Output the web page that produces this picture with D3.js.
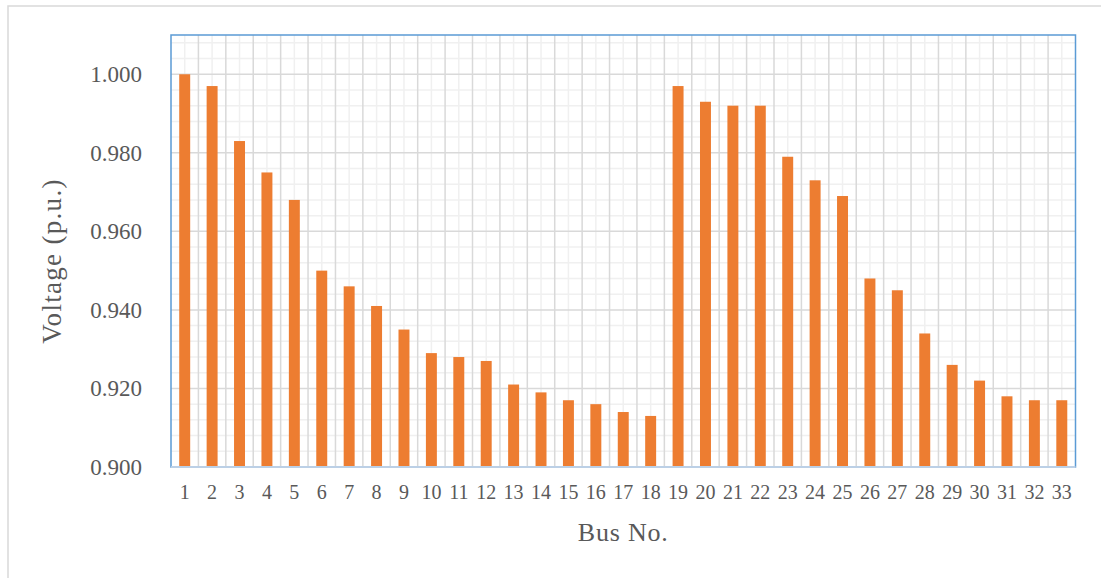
<!DOCTYPE html>
<html>
<head>
<meta charset="utf-8">
<script src="https://cdn.jsdelivr.net/npm/d3@7"></script>
<style>
  html, body { margin: 0; padding: 0; background: #ffffff; }
  svg { display: block; }
</style>
</head>
<body>
<svg id="chart" width="1101" height="578"></svg>
<script>
// ---- data ----
const buses = [1,2,3,4,5,6,7,8,9,10,11,12,13,14,15,16,17,18,19,20,21,22,23,24,25,26,27,28,29,30,31,32,33];
const voltages = [1.000,0.997,0.983,0.975,0.968,0.950,0.946,0.941,0.935,0.929,0.928,0.927,0.921,0.919,0.917,0.916,0.914,0.913,
                  0.997,0.993,0.992,0.992,0.979,0.973,0.969,0.948,0.945,0.934,0.926,0.922,0.918,0.917,0.917];
const yTicks = [0.900,0.920,0.940,0.960,0.980,1.000];
const yMinorTicks = d3.range(0, 28).map(i => +(0.900 + i * 0.004).toFixed(3));
const xTitle = "Bus No.";
const yTitle = "Voltage (p.u.)";

// ---- layout ----
const svg = d3.select("#chart");
const L = 171, R = 1075.5, T = 35, B = 467;
const font = "'Liberation Serif', 'Times New Roman', serif";
const textColor = "#595959";

// outer chart border
svg.append("rect").attr("x", 8).attr("y", 6).attr("width", 1110).attr("height", 600)
  .attr("fill", "#fff").attr("stroke", "#d9d9d9").attr("stroke-width", 1.5);

const x = d3.scaleBand().domain(buses).range([L, R]).paddingInner(0.6).paddingOuter(0.3);
const y = d3.scaleLinear().domain([0.900, 1.010]).range([B, T]);
const step = x.step();

const g = svg.append("g");

// minor horizontal gridlines
g.selectAll("line.hmin").data(yMinorTicks.filter(v => yTicks.indexOf(v) < 0)).enter().append("line")
  .attr("x1", L).attr("x2", R).attr("y1", d => y(d)).attr("y2", d => y(d))
  .attr("stroke", "#f0f0f0").attr("stroke-width", 1.5);

// minor vertical gridlines (category centres)
g.selectAll("line.vmin").data(buses).enter().append("line")
  .attr("x1", d => x(d) + x.bandwidth() / 2).attr("x2", d => x(d) + x.bandwidth() / 2)
  .attr("y1", T).attr("y2", B)
  .attr("stroke", "#f0f0f0").attr("stroke-width", 1.5);

// major vertical gridlines (category boundaries)
g.selectAll("line.vmaj").data(buses.slice(1)).enter().append("line")
  .attr("x1", d => x(d) - (step - x.bandwidth()) / 2).attr("x2", d => x(d) - (step - x.bandwidth()) / 2)
  .attr("y1", T).attr("y2", B)
  .attr("stroke", "#d9d9d9").attr("stroke-width", 1.5);

// major horizontal gridlines
g.selectAll("line.hmaj").data(yTicks.slice(1)).enter().append("line")
  .attr("x1", L).attr("x2", R).attr("y1", d => y(d)).attr("y2", d => y(d))
  .attr("stroke", "#d9d9d9").attr("stroke-width", 1.5);

// bars
g.selectAll("rect.bar").data(voltages).enter().append("rect")
  .attr("x", (d, i) => x(buses[i]))
  .attr("width", x.bandwidth())
  .attr("y", d => y(d))
  .attr("height", d => y(0.900) - y(d))
  .attr("fill", "#ed7d31");

// plot border
svg.append("rect").attr("x", L).attr("y", T).attr("width", R - L).attr("height", B - T)
  .attr("fill", "none").attr("stroke", "#5b9bd5").attr("stroke-width", 1.5);
// category axis line
svg.append("line").attr("x1", L).attr("x2", R).attr("y1", B).attr("y2", B)
  .attr("stroke", "#bcd0e6").attr("stroke-width", 2);

// y tick labels
const yAxis = d3.axisLeft(y).tickValues(yTicks).tickFormat(d3.format(".3f")).tickSize(0).tickPadding(29);
const ya = svg.append("g").attr("transform", `translate(${L},0)`).call(yAxis);
ya.select(".domain").remove();
ya.selectAll("text").attr("font-family", font).attr("font-size", 23).attr("fill", textColor);

// x tick labels
const xAxis = d3.axisBottom(x).tickSize(0).tickPadding(18);
const xa = svg.append("g").attr("transform", `translate(0,${B})`).call(xAxis);
xa.select(".domain").remove();
xa.selectAll("text").attr("font-family", font).attr("font-size", 20).attr("fill", textColor);

// axis titles
svg.append("text").attr("x", (L + R) / 2).attr("y", 541).attr("text-anchor", "middle")
  .attr("font-family", font).attr("font-size", 26).attr("letter-spacing", 0.8)
  .attr("fill", textColor).text(xTitle);
svg.append("text").attr("transform", "translate(61,261) rotate(-90)").attr("text-anchor", "middle")
  .attr("font-family", font).attr("font-size", 27).attr("letter-spacing", 1.3)
  .attr("fill", textColor).text(yTitle);
</script>
</body>
</html>
